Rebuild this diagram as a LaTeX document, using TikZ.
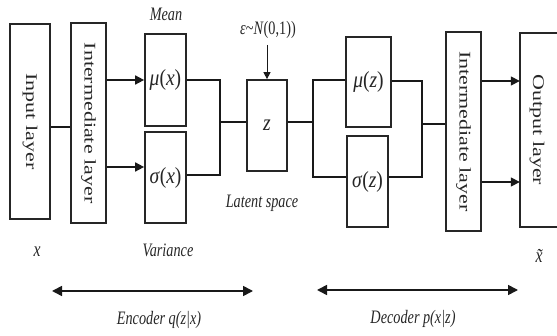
\documentclass[tikz,border=0pt]{standalone}
\usepackage{fontspec}
\setmainfont{Liberation Serif}
\usetikzlibrary{arrows.meta}
\begin{document}
\begin{tikzpicture}[x=1pt,y=-1pt,
  box/.style={draw=black!85, line width=1.7pt, inner sep=0pt},
  conn/.style={line width=1.6pt, black!90},
  arr/.style={conn, -{Triangle[length=9pt,width=9pt]}},
  darr/.style={conn, {Triangle[length=10pt,width=10pt]}-{Triangle[length=10pt,width=10pt]}},
  rot/.style={inner sep=0pt, rotate=-90, font=\fontsize{22}{22}\selectfont, text=black!85},
  lbl/.style={inner sep=0pt, font=\fontsize{19}{19}\selectfont\itshape, text=black!85},
  mth/.style={inner sep=0pt, font=\fontsize{23}{23}\selectfont, text=black!85},
]
\useasboundingbox (0,0) rectangle (557,336);
\newcommand{\hx}[1]{\scalebox{0.75}[1]{#1}}
\newcommand{\vx}[1]{\scalebox{1}[0.74]{#1}}
\newcommand{\mx}[1]{\scalebox{0.85}[1]{#1}}

% boxes
\node[box, minimum width=40, minimum height=195] (inp) at (30,121.5) {};
\node[rot] (inpT) at (inp) {\vx{Input layer}};
\node[box, minimum width=35, minimum height=200] (intl) at (88.5,123) {};
\node[rot] (intlT) at (intl) {\vx{Intermediate layer}};
\node[box, minimum width=41, minimum height=92] (mux) at (165.5,80) {};
\node[mth] (muxT) at (mux) {\mx{\textit{μ}(\textit{x})}};
\node[box, minimum width=41, minimum height=91] (sigx) at (165.5,177.5) {};
\node[mth] (sigxT) at (sigx) {\mx{\textit{σ}(\textit{x})}};
\node[box, minimum width=40, minimum height=91] (z) at (267,125.5) {};
\node[mth] (zT) at (z) {\mx{\textit{z}}};
\node[box, minimum width=45, minimum height=90] (muz) at (368.5,82) {};
\node[mth] (muzT) at (muz) {\mx{\textit{μ}(\textit{z})}};
\node[box, minimum width=41, minimum height=91] (sigz) at (367.5,181.5) {};
\node[mth] (sigzT) at (sigz) {\mx{\textit{σ}(\textit{z})}};
\node[box, minimum width=35, minimum height=199] (intr) at (463.5,131.5) {};
\node[rot] (intrT) at (intr) {\vx{Intermediate layer}};
\node[inner sep=0pt, minimum width=37, minimum height=194] (out) at (538.5,130) {};
\draw[box] (out.north east) -- (out.north west) -- (out.south west) -- (out.south east);
\node[rot] (outT) at (537,130) {\vx{Output layer}};

% labels
\node[lbl] (mean) at (166,14) {\hx{Mean}};
\node[lbl] (var) at (168,250) {\hx{Variance}};
\node[lbl] (lat) at (262,203) {\hx{Latent space}};
\node[lbl, font=\fontsize{21}{21}\selectfont\itshape] (xin) at (37,252) {\hx{x}};
\node[lbl, font=\fontsize{21}{21}\selectfont\itshape] (xout) at (539,256) {\hx{x\symbol{"0303}}};
\node[lbl, font=\fontsize{19}{19}\selectfont] (eps) at (268,30) {\hx{\textit{ε}\textasciitilde\textit{N}(0,1))}};
\node[lbl] (enc) at (159,320) {\hx{Encoder \textit{q}(\textit{z}|\textit{x})}};
\node[lbl] (dec) at (413,319) {\hx{Decoder \textit{p}(\textit{x}|\textit{z})}};

% connectors
\draw[conn] (inp.east |- 0,127) -- (intl.west |- 0,127);
\draw[arr] (intl.east |- mux.west) -- (mux.west);
\draw[arr] (intl.east |- 0,167) -- (sigx.west |- 0,167);
\coordinate (j1) at (220,122);
\draw[conn] (mux.east) -| (j1) |- (sigx.east |- 0,175);
\draw[conn] (j1) -- (z.west |- j1);
\draw[conn, -{Triangle[length=7pt,width=7pt]}, line width=1pt] (z.north |- eps.south) ++(0,6) -- (z.north);
\coordinate (j2) at (313,122);
\draw[conn] (z.east |- j2) -- (j2);
\draw[conn] (muz.west |- 0,80) -| (j2) |- (sigz.west |- 0,177);
\coordinate (j3) at (422,124);
\draw[conn] (muz.east |- 0,81) -| (j3) |- (sigz.east |- 0,177);
\draw[conn] (j3) -- (intr.west |- j3);
\draw[arr] (intr.east |- 0,81) -- (out.west |- 0,81);
\draw[arr] (intr.east |- 0,182) -- (out.west |- 0,182);

\coordinate (e1) at (52,291);
\coordinate (e2) at (253,291);
\coordinate (d1) at (317,290);
\coordinate (d2) at (518,290);
\draw[darr] (e1) -- (e2);
\draw[darr] (d1) -- (d2);
\end{tikzpicture}
\end{document}
